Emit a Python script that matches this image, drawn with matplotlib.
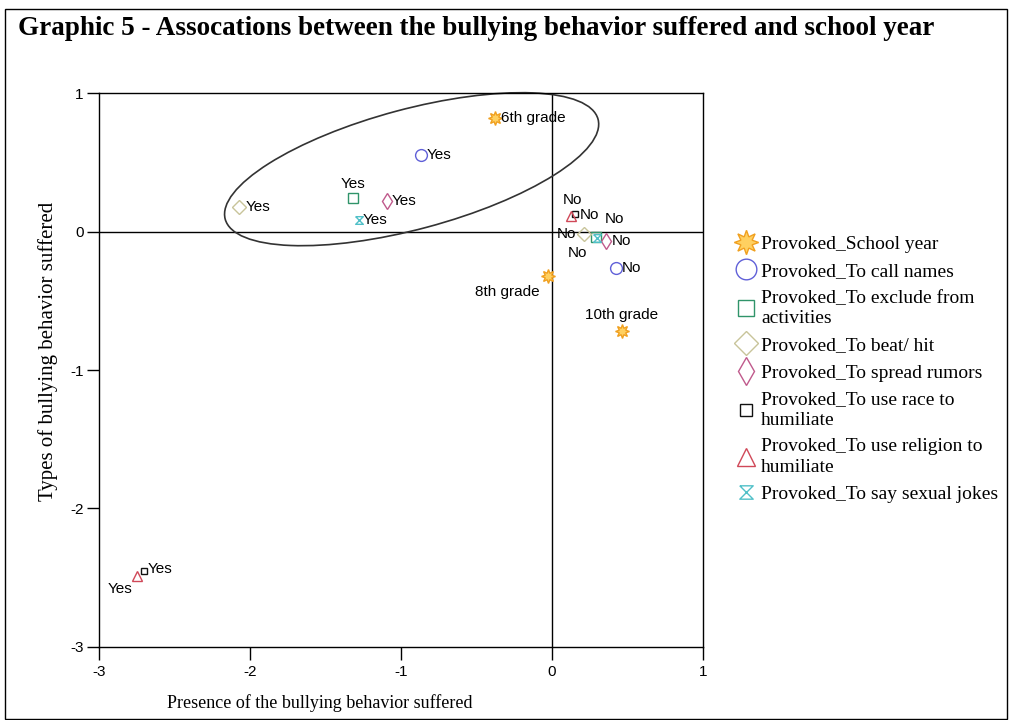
import matplotlib
matplotlib.use("Agg")
import matplotlib.pyplot as plt
from matplotlib.patches import Ellipse, Rectangle
from matplotlib.transforms import ScaledTranslation

plt.rcParams['axes.unicode_minus'] = False

# Daten
series_names = ["Provoked_School year", "Provoked_To call names",
                "Provoked_To exclude from\nactivities", "Provoked_To beat/ hit",
                "Provoked_To spread rumors", "Provoked_To use race to\nhumiliate",
                "Provoked_To use religion to\nhumiliate", "Provoked_To say sexual jokes"]
school_x = [-0.38, -0.03, 0.46]
school_y = [0.82, -0.32, -0.72]
school_labels = ["6th grade", "8th grade", "10th grade"]
names_x = [-0.87, 0.42]
names_y = [0.55, -0.26]
exclude_x = [-1.32, 0.29]
exclude_y = [0.24, -0.04]
beat_x = [-2.07, 0.21]
beat_y = [0.18, -0.015]
rumors_x = [-1.09, 0.36]
rumors_y = [0.22, -0.065]
race_x = [-2.70, 0.15]
race_y = [-2.45, 0.13]
religion_x = [-2.75, 0.125]
religion_y = [-2.49, 0.115]
jokes_x = [-1.28, 0.30]
jokes_y = [0.08, -0.045]
yes_no = ["Yes", "No"]

hourglass = [(-1, 1), (1, 1), (-1, -1), (1, -1), (-1, 1)]

# Stil je Serie: marker, Randfarbe, Füllfarbe
styles = [
    ((8, 1, 0), '#f0a020', '#ffd060'),
    ('o', '#6060d8', 'none'),
    ('s', '#30946a', 'none'),
    ('D', '#c8c49a', 'none'),
    ('d', '#c05a8c', 'none'),
    ('s', '#111111', 'none'),
    ('^', '#d04858', 'none'),
    (hourglass, '#50c0c8', 'none'),
]
sizes = [10, 8.5, 6.5, 7, 8, 5, 7.5, 5.5]

xs = [school_x, names_x, exclude_x, beat_x, rumors_x, race_x, religion_x, jokes_x]
ys = [school_y, names_y, exclude_y, beat_y, rumors_y, race_y, religion_y, jokes_y]
labels = [school_labels] + [yes_no] * 7

# Label-Versatz in Pixeln (dx, dy, ha)
offsets = [
    [(6, 0, 'left'), (-8, -16, 'right'), (0, 16, 'center')],
    [(6, 0, 'left'), (6, 0, 'left')],
    [(0, 14, 'center'), (19, 18, 'center')],
    [(6, 0, 'left'), (-8, 0, 'right')],
    [(4, 0, 'left'), (5, 0, 'left')],
    [(3, 2, 'left'), (5, -1, 'left')],
    [(-4, -13, 'right'), (1, 16, 'center')],
    [(4, 0, 'left'), (-20, -15, 'center')],
]

fig = plt.figure(figsize=(10.12, 7.2), dpi=100)
ax = fig.add_axes([0.0978, 0.1014, 0.597, 0.7694])

for i in range(len(series_names)):
    m, ec, fc = styles[i]
    ax.plot(xs[i], ys[i], linestyle='none', marker=m, markersize=sizes[i],
            markeredgecolor=ec, markerfacecolor=fc, markeredgewidth=1.0,
            label=series_names[i], zorder=3)
    for j in range(len(xs[i])):
        dx, dy, ha = offsets[i][j]
        ax.annotate(labels[i][j], (xs[i][j], ys[i][j]), xytext=(dx, dy),
                    textcoords='offset pixels', ha=ha, va='center',
                    fontsize=11, family='Liberation Sans', zorder=4)

ax.axhline(0, color='black', linewidth=1.0, zorder=1)
ax.axvline(0, color='black', linewidth=1.0, zorder=1)

# Ellipse um die "Yes"-Gruppe (Größe in Zoll, Mitte in Datenkoordinaten)
ell_tr = fig.dpi_scale_trans + ScaledTranslation(-0.93, 0.45, ax.transData)
ell = Ellipse((0, 0), width=3.86, height=1.2, angle=15, transform=ell_tr,
              fill=False, edgecolor='#333333', linewidth=1.2, clip_on=False)
ax.add_patch(ell)

ax.set_xlim(-3, 1)
ax.set_ylim(-3, 1)
ax.set_xticks([-3, -2, -1, 0, 1])
ax.set_yticks([-3, -2, -1, 0, 1])
ax.tick_params(direction='out', length=9, width=1, labelsize=11, pad=2)
ax.tick_params(axis='x', pad=4)
for lab in ax.get_xticklabels() + ax.get_yticklabels():
    lab.set_family('Liberation Sans')
for sp in ax.spines.values():
    sp.set_linewidth(1.0)

ax.set_xlabel("Presence of the bullying behavior suffered", family='Liberation Serif',
              fontsize=13, va='center')
ax.xaxis.set_label_coords(0.366, -0.101)
ax.set_ylabel("Types of bullying behavior suffered", family='Liberation Serif',
              fontsize=15, va='center')
ax.yaxis.set_label_coords(-0.084, 0.534)

fig.text(0.018, 0.96, "Graphic 5 - Assocations between the bullying behavior suffered and school year",
         family='Liberation Serif', fontsize=19.5, fontweight='bold', va='center', ha='left')

leg = ax.legend(loc='upper left', bbox_to_anchor=(733 / 1012, 1 - 235 / 720),
                bbox_transform=fig.transFigure, frameon=False,
                prop={'family': 'Liberation Serif', 'size': 14}, markerscale=1.75,
                handletextpad=0.15, labelspacing=0.5, handlelength=1.3,
                borderaxespad=0, borderpad=0)
for t in leg.get_texts():
    t.set_linespacing(1.25)

# Rahmen um die ganze Grafik
fig.patches.append(Rectangle((0.005, 0.002), 0.99, 0.9855, transform=fig.transFigure,
                             fill=False, edgecolor='black', linewidth=1.0))

fig.savefig("out.png", dpi=100)
